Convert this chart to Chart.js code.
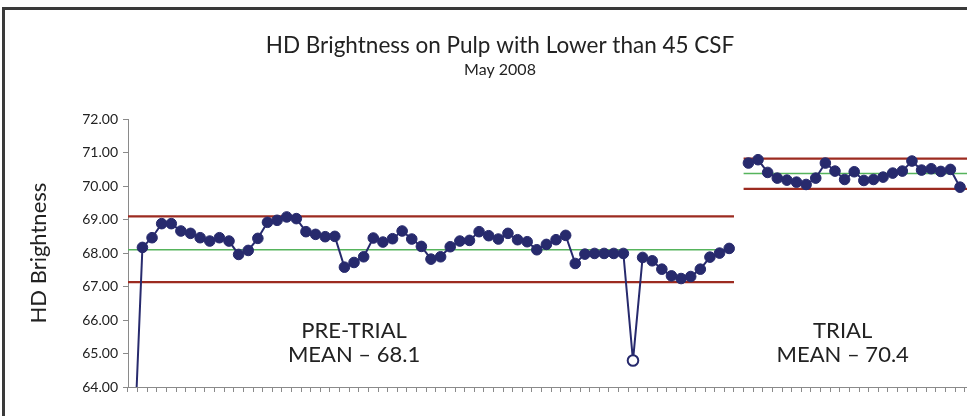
<!DOCTYPE html>
<html>
<head>
<meta charset="utf-8">
<title>HD Brightness on Pulp</title>
<script src="https://cdn.jsdelivr.net/npm/chart.js"></script>
<style>
  html, body { margin: 0; padding: 0; background: #fff; overflow: hidden; width: 967px; height: 416px; }
  #frame { position: absolute; left: 2px; top: 7px; width: 1000px; height: 500px;
           border-top: 3px solid #3a3a3a; border-left: 3px solid #3a3a3a; }
  #wrap { position: absolute; left: 0; top: 0; width: 1000px; height: 416px; }
</style>
</head>
<body>
<div id="frame"></div>
<div id="wrap"><canvas id="hd-chart"></canvas></div>
<script>
// HD brightness per sample, pre-trial then trial (May 2008)
const preTrial = [
  61.2, 68.17, 68.46, 68.88, 68.88, 68.66, 68.59, 68.46, 68.36, 68.46,
  68.36, 67.96, 68.08, 68.44, 68.92, 68.98, 69.08, 69.03, 68.64, 68.56,
  68.49, 68.50, 67.58, 67.72, 67.89, 68.45, 68.33, 68.43, 68.66, 68.42,
  68.20, 67.82, 67.89, 68.19, 68.36, 68.38, 68.64, 68.52, 68.42, 68.59,
  68.40, 68.34, 68.10, 68.26, 68.40, 68.53, 67.69, 67.97, 67.99, 67.99,
  67.99, 67.99, 64.79, 67.87, 67.77, 67.52, 67.32, 67.24, 67.30, 67.52,
  67.88, 68.00, 68.14
];
const trial = [
  70.69, 70.79, 70.41, 70.24, 70.18, 70.12, 70.05, 70.24, 70.69, 70.45,
  70.20, 70.43, 70.17, 70.20, 70.27, 70.39, 70.45, 70.75, 70.48, 70.52,
  70.44, 70.50, 69.97
];
const trialStart = 64;      // first sample index of the trial
const totalSamples = 90;
const outlierIndex = 52;    // hollow marker in the pre-trial run

// control limits: [upper, mean, lower]
const preLimits = [69.1, 68.1, 67.13];
const trialLimits = [70.82, 70.38, 69.92];

const samples = Array.from({ length: totalSamples }, (_, i) => String(i + 1));

const navy = "#272a6d";
const red = "#9c2b20";
const green = "#56b45c";
const font = "Lato, 'Open Sans', sans-serif";

const preData = samples.map((_, i) => (i < preTrial.length ? preTrial[i] : null));
const trialData = samples.map((_, i) =>
  i >= trialStart && i - trialStart < trial.length ? trial[i - trialStart] : null
);

const labels = [
  { at: 23, lines: ["PRE-TRIAL", "MEAN \u2013 68.1"] },
  { at: 73.8, lines: ["TRIAL", "MEAN \u2013 70.4"] }
];

// garis batas kontrol, lebar sampai tepi kategori
const limitLines = {
  id: "limitLines",
  beforeDatasetsDraw(chart) {
    const { ctx, scales: { x, y } } = chart;
    const half = (x.getPixelForValue(1) - x.getPixelForValue(0)) / 2;
    const draw = (from, to, vals) => {
      const x0 = x.getPixelForValue(from) - half;
      const x1 = x.getPixelForValue(to) + half;
      vals.forEach((v, k) => {
        const py = y.getPixelForValue(v);
        ctx.beginPath();
        ctx.strokeStyle = k === 1 ? green : red;
        ctx.lineWidth = k === 1 ? 1.5 : 2.2;
        ctx.moveTo(x0, py);
        ctx.lineTo(x1, py);
        ctx.stroke();
      });
    };
    ctx.save();
    draw(0, preTrial.length - 1, preLimits);
    draw(trialStart, totalSamples - 1, trialLimits);
    ctx.restore();
  }
};

const phaseText = {
  id: "phaseText",
  afterDatasetsDraw(chart) {
    const { ctx, scales: { x, y } } = chart;
    ctx.save();
    ctx.font = "22px " + font;
    ctx.fillStyle = "#222";
    ctx.textAlign = "center";
    ctx.textBaseline = "middle";
    labels.forEach(l => {
      const px = x.getPixelForValue(l.at);
      ctx.fillText(l.lines[0], px, y.getPixelForValue(65.69));
      ctx.fillText(l.lines[1], px, y.getPixelForValue(64.97));
    });
    ctx.restore();
  }
};

new Chart(document.getElementById("hd-chart"), {
  type: "line",
  data: {
    labels: samples,
    datasets: [
      {
        label: "Pre-trial",
        data: preData,
        borderColor: navy,
        borderWidth: 2,
        pointRadius: 5.3,
        pointBorderWidth: c => (c.dataIndex === outlierIndex ? 2 : 1),
        pointBorderColor: navy,
        pointBackgroundColor: c => (c.dataIndex === outlierIndex ? "#fff" : navy),
        tension: 0,
        spanGaps: false
      },
      {
        label: "Trial",
        data: trialData,
        borderColor: navy,
        borderWidth: 2,
        pointRadius: 5.3,
        pointBorderWidth: 1,
        pointBorderColor: navy,
        pointBackgroundColor: navy,
        tension: 0,
        spanGaps: false
      }
    ]
  },
  options: {
    responsive: true,
    maintainAspectRatio: false,
    animation: false,
    layout: { padding: { top: 32, left: 0, right: 0, bottom: 24 } },
    plugins: {
      legend: { display: false },
      tooltip: { enabled: false },
      title: {
        display: true,
        text: "HD Brightness on Pulp with Lower than 45 CSF",
        color: "#222",
        font: { family: font, size: 22.5, weight: "normal" },
        padding: { top: 0, bottom: 1 }
      },
      subtitle: {
        display: true,
        text: "May 2008",
        color: "#222",
        font: { family: font, size: 16, weight: "normal" },
        padding: { top: 0, bottom: 40 }
      }
    },
    scales: {
      x: {
        type: "category",
        offset: true,
        grid: { display: true, offset: true, drawOnChartArea: false, drawTicks: true, tickLength: 5, color: "#8a8a8a" },
        border: { display: true, color: "#8a8a8a", width: 1 },
        ticks: { display: false, autoSkip: false }
      },
      y: {
        min: 64,
        max: 72,
        ticks: {
          stepSize: 1,
          padding: 5,
          color: "#222",
          font: { family: font, size: 14 },
          callback: v => Number(v).toFixed(2)
        },
        grid: { drawOnChartArea: false, drawTicks: true, tickLength: 5, color: "#8a8a8a" },
        border: { display: true, color: "#8a8a8a", width: 1 },
        title: {
          display: true,
          text: "HD Brightness",
          color: "#222",
          font: { family: font, size: 22 },
          padding: { top: 26, bottom: 0 }
        },
        afterFit: s => { s.width = 128; }
      }
    }
  },
  plugins: [limitLines, phaseText]
});
</script>
</body>
</html>
